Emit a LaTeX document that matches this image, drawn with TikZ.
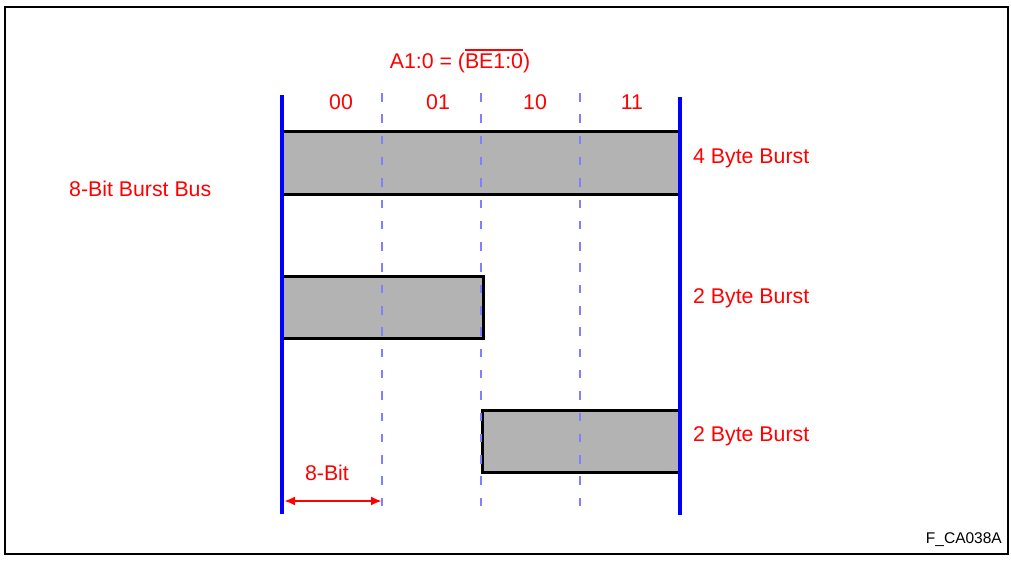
\documentclass[tikz,border=0pt]{standalone}
\usepackage{fontspec}
\setmainfont{Liberation Sans}
\usetikzlibrary{arrows.meta}
\definecolor{barfill}{RGB}{179,179,179}
\definecolor{dashblue}{RGB}{128,128,255}
\definecolor{lblred}{RGB}{255,0,0}
\newcommand\myovl[1]{\setbox0\hbox{#1}\rlap{\raisebox{1.22\ht0}{\rule{\wd0}{1.8pt}}}\box0}
\begin{document}
\begin{tikzpicture}[x=1pt,y=-1pt,
  lbl/.style={text=lblred,inner sep=0pt,font=\fontsize{21.3}{25}\selectfont},
  bar/.style={draw=black,line width=3pt,fill=barfill},
  busline/.style={draw=blue,line width=3.2pt},
  laneline/.style={draw=dashblue,line width=2.8pt,dash pattern=on 8.5pt off 12.8pt},
  dim/.style={draw=lblred,line width=2.4pt,{Latex[length=11pt,width=9pt]}-{Latex[length=11pt,width=9pt]}}]
\useasboundingbox (0,0) rectangle (1011,560);
\draw[line width=2.2pt] (5,7) rectangle (1008,554);
% bars
\draw[bar] (282,131) rectangle (680,194);
\draw[bar] (282,276) rectangle (483,338);
\draw[bar] (482,410) rectangle (680,472);
% lane lines
\foreach \x/\n in {382/a,481/b,580/c}{
  \coordinate (t\n) at (\x,93);
  \coordinate (b\n) at (\x,513);
  \draw[laneline] (t\n) -- (b\n);
}
% bus lines
\coordinate (lt) at (282,95);
\coordinate (lb) at (282,514);
\coordinate (rt) at (680,97);
\coordinate (rb) at (680,515);
\draw[busline] (lt) -- (lb);
\draw[busline] (rt) -- (rb);
% texts
\node[lbl] (title) at (460,61) {A1:0 = (\myovl{BE1:0})};
\node[lbl] (c00) at (341,102) {00};
\node[lbl] (c01) at (438,102) {01};
\node[lbl] (c10) at (535,102) {10};
\node[lbl] (c11) at (632,102) {11};
\node[lbl,anchor=west] (b4) at (693,158) {4 Byte Burst};
\node[lbl,anchor=west] (b2a) at (693,298) {2 Byte Burst};
\node[lbl,anchor=west] (b2b) at (693,436) {2 Byte Burst};
\node[lbl,anchor=west] (bus) at (69,189) {8-Bit Burst Bus};
\node[lbl] (bit) at (327,473) {8-Bit};
\coordinate (al) at (284,501);
\coordinate (ar) at (382,501);
\draw[dim] (al) -- (ar);
\node[inner sep=0pt,anchor=east,font=\fontsize{15.5}{18}\selectfont] (fig) at (1002,540) {F\_CA038A};
\end{tikzpicture}
\end{document}
